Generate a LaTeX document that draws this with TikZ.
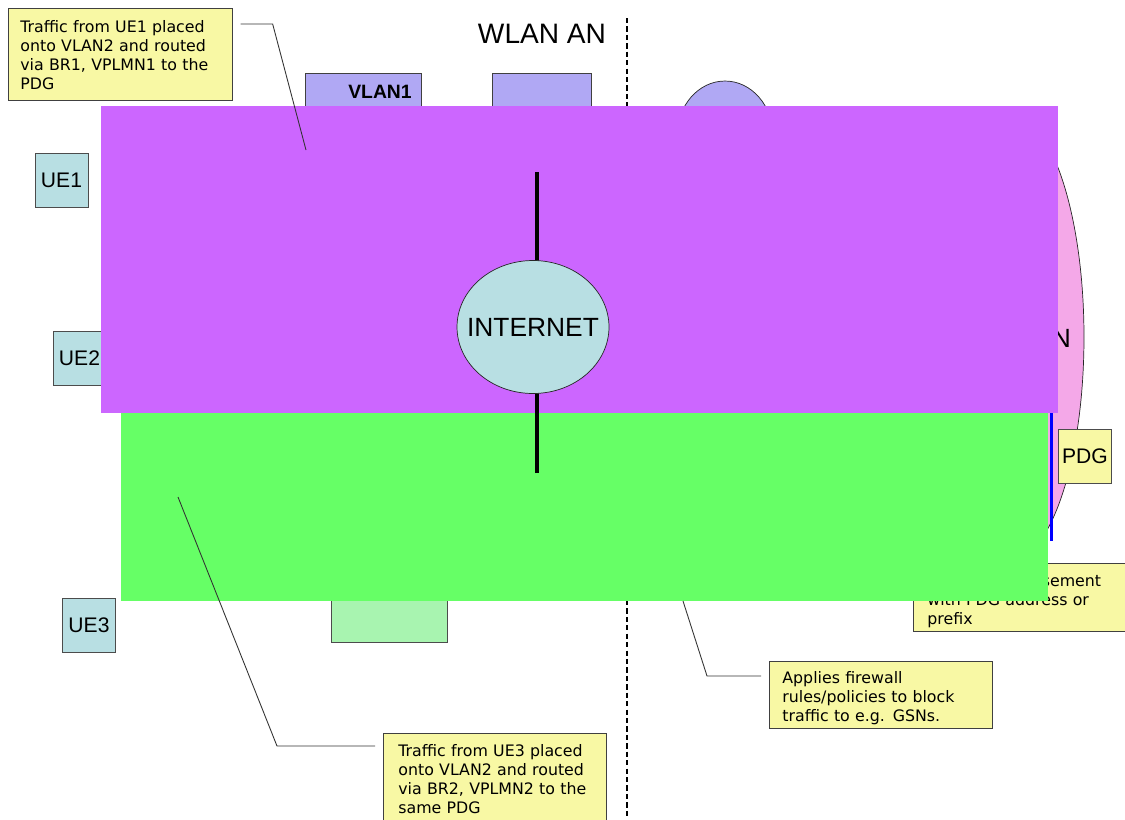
\documentclass[tikz,border=0pt]{standalone}
\usepackage{fontspec}
\setmainfont{Liberation Sans}
\newfontfamily\notefont{DejaVu Sans}
\usepackage{tikz}
\usetikzlibrary{shapes.geometric, positioning, calc}
\definecolor{noteyellow}{RGB}{248, 248, 164}
\definecolor{uecyan}{RGB}{184, 223, 227}
\definecolor{vlanblue}{RGB}{176, 168, 244}
\definecolor{plmnpink}{RGB}{244, 168, 232}
\definecolor{palegreen}{RGB}{168, 244, 176}
\definecolor{maskpurple}{RGB}{204, 102, 255}
\definecolor{maskgreen}{RGB}{102, 255, 102}

\begin{document}
\begin{tikzpicture}[
    x=0.02cm, y=-0.02cm,
    note/.style={rectangle, draw=black!75, fill=noteyellow, anchor=north west, align=left, inner ysep=0pt, font=\notefont\fontsize{9}{10.8}\selectfont},
    uebox/.style={rectangle, draw=black!70, fill=uecyan, minimum width=1.06cm, minimum height=1.08cm, inner sep=0pt, font=\fontsize{12}{14}\selectfont},
    lanbox/.style={rectangle, draw=black!75, fill=vlanblue, anchor=north west, minimum height=2.6cm},
    cloud/.style={ellipse, draw=black!85, inner sep=0pt},
    leader/.style={draw=black!80, line width=0.5pt},
    uplink/.style={line width=2.3pt},
]
\useasboundingbox (0,0) rectangle (1125,819);

% WLAN AN border
\draw[dashed, line width=1.1pt, dash pattern=on 3pt off 1.8pt] (627,18) -- (627,819);
\node[font=\fontsize{16}{19}\selectfont] (wlanan) at (542,34) {WLAN AN};

% VLANs
\node[lanbox, minimum width=2.32cm] (vlan1) at (305,73) {};
\node[font=\bfseries\fontsize{11}{13}\selectfont] (vlan1lbl) at (380,92) {VLAN1};
\node[lanbox, minimum width=1.98cm] (vlan2) at (492,73) {};
\node[rectangle, draw=black!70, fill=palegreen, anchor=south west, minimum width=2.32cm, minimum height=2.86cm] (br2) at (331,643) {};

% PLMNs
\node[cloud, fill=vlanblue, minimum width=1.92cm, minimum height=2.2cm] (vplmn) at (725,136) {};
\node[cloud, fill=plmnpink, minimum width=3.04cm, minimum height=9cm] (hplmn) at (1008,337) {};
\node[font=\fontsize{15}{18}\selectfont, anchor=east] (hplmnlbl) at (1077,338) {HPLMN};
\draw[blue, line width=1.7pt] (1051,300) -- (1051,541);
\node[uebox, fill=noteyellow] (pdg) at (1085,456) {PDG};

% UEs
\node[uebox] (ue1) at (61.5,180) {UE1};
\node[uebox] (ue2) at (79.5,358.5) {UE2};
\node[uebox] (ue3) at (89,625) {UE3};

% Notes
\node[note, inner xsep=0.24cm, text width=4.0cm, minimum height=1.84cm] (note1) at (8,8) {\rule{0pt}{8pt}Traffic from UE1 placed\\onto VLAN2 and routed\\via BR1, VPLMN1 to the\\PDG};
\node[note, inner xsep=0.28cm, text width=4.0cm, minimum height=1.36cm] (ranote) at (913,563) {\rule{0pt}{11pt}Router Advertisement\\with PDG address or\\prefix};
\node[note, inner xsep=0.26cm, text width=3.94cm, minimum height=1.34cm] (fwnote) at (769,661) {\rule{0pt}{11pt}Applies firewall\\rules/policies to block\\traffic to e.g. GSNs.};
\node[note, inner xsep=0.3cm, text width=3.86cm, minimum height=1.84cm] (note3) at (383,733) {Traffic from UE3 placed\\onto VLAN2 and routed\\via BR2, VPLMN2 to the\\same PDG};

% Covers
\fill[maskpurple] (101,106) rectangle (1058,413);
\fill[maskgreen] (121,413) rectangle (1048,601);

% Internet
\coordinate (ltop) at (537,172);
\coordinate (lbot) at (537,473);
\draw[uplink] (ltop) -- (ltop |- 0,330);
\draw[uplink] (lbot) -- (lbot |- 0,330);
\node[cloud, fill=uecyan, minimum width=3.04cm, minimum height=2.66cm] (inet) at (533,327) {};
\node[font=\fontsize{15}{18}\selectfont] (inetlbl) at (inet.center) {INTERNET};

% Leaders
\coordinate (tip1) at (306,150);
\coordinate (fwtip) at (683,601);
\coordinate (tip3) at (178,497);
\draw[leader] ($(note1.north east)+(8,16)$) -- ++(32,0) -- (tip1);
\draw[leader] ($(fwnote.north west)+(-8,15)$) -- ++(-54,0) -- (fwtip);
\draw[leader] ($(note3.north west)+(-8,13)$) -- ++(-98,0) -- (tip3);

\end{tikzpicture}
\end{document}
